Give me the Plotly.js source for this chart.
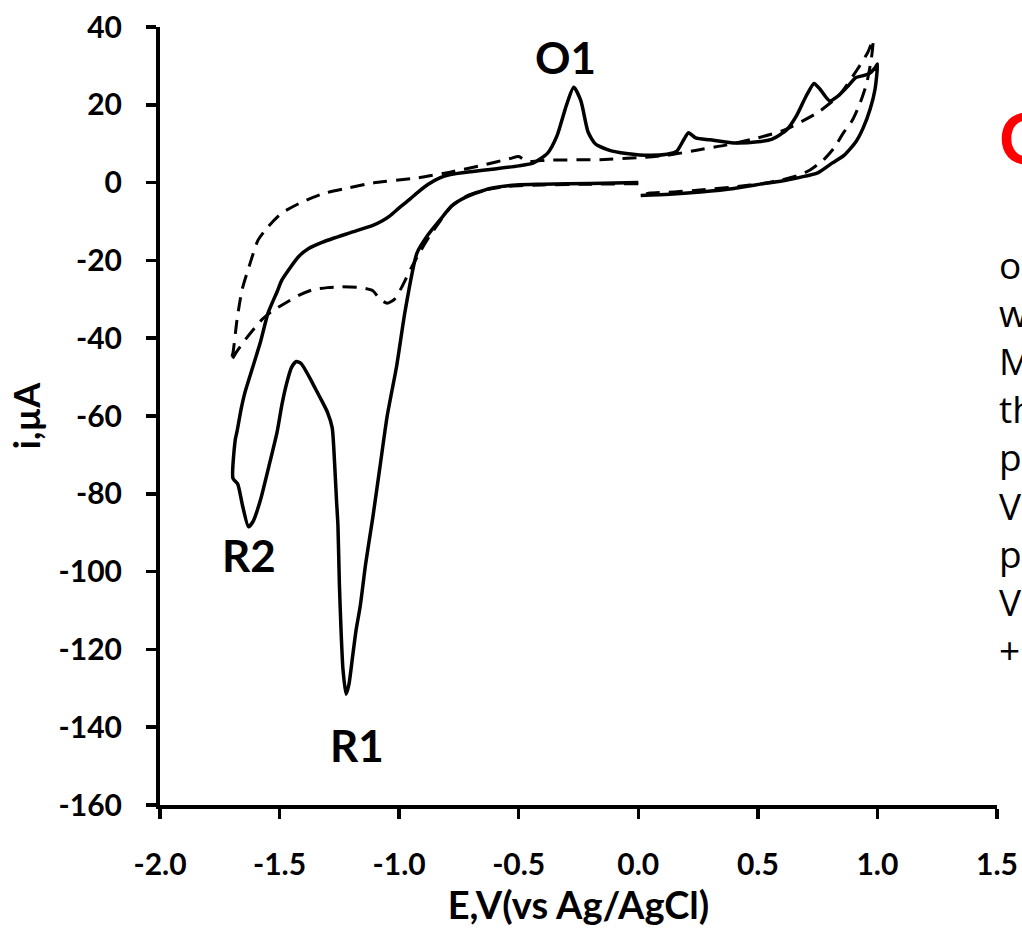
<!DOCTYPE html>
<html>
<head>
<meta charset="utf-8">
<script src="https://cdn.plot.ly/plotly-3.0.1.min.js"></script>
<style>html,body{margin:0;padding:0;background:#fff;overflow:hidden}</style>
</head>
<body>
<div id="chart" style="width:1022px;height:932px"></div>
<script>
// Solid CV (with analyte): potential E (V vs Ag/AgCl) and current i (µA)
const solidE = [0.0,-0.2,-0.4,-0.51,-0.62,-0.717,-0.78,-0.829,-0.88,-0.926,-0.975,-1.01,-1.05,-1.08,-1.11,-1.14,-1.163,-1.18,-1.195,-1.21,-1.222,-1.235,-1.243,-1.25,-1.256,-1.262,-1.27,-1.28,-1.30,-1.32,-1.35,-1.38,-1.41,-1.43,-1.45,-1.47,-1.49,-1.51,-1.545,-1.58,-1.61,-1.63,-1.655,-1.675,-1.695,-1.685,-1.678,-1.66,-1.645,-1.615,-1.58,-1.548,-1.51,-1.49,-1.42,-1.38,-1.32,-1.21,-1.11,-1.07,-1.04,-1.00,-0.96,-0.926,-0.88,-0.83,-0.79,-0.70,-0.60,-0.50,-0.44,-0.38,-0.34,-0.30,-0.27,-0.24,-0.21,-0.18,-0.12,-0.05,0.05,0.12,0.16,0.19,0.21,0.24,0.30,0.40,0.50,0.56,0.62,0.66,0.70,0.735,0.76,0.80,0.84,0.88,0.91,0.94,0.965,0.99,1.0,0.99,0.97,0.94,0.91,0.86,0.81,0.75,0.68,0.60,0.54,0.40,0.26,0.13,0.01];
const solidI = [0.0,-0.2,-0.4,-0.6,-1.5,-3.6,-6.0,-9.6,-13.5,-18.2,-33,-47,-60,-73,-86,-98,-109,-115,-122,-129,-131.5,-125,-115,-103,-88,-81.6,-72,-63,-59,-56.5,-53,-49.5,-46.5,-46,-47.5,-51.5,-57,-64,-73,-81.6,-87,-88.5,-83,-77.5,-76,-66,-64,-58,-54,-48,-41,-33.5,-28,-25,-19,-17,-15.3,-13,-11,-9.8,-8.6,-6.5,-4.5,-2.7,-0.5,1.2,2.0,2.8,3.5,4.3,5.0,7.5,12,20,24.5,21,13,10,8.3,7.5,7.0,7.3,8.0,11,12.8,11.5,11.0,10.2,10.5,11.2,13.5,17,22,25.5,24,21,22.5,25,27,27.5,28,29.5,30.5,24,19,14,10.5,7,5,2.5,1.4,0.4,-0.1,-1.5,-2.4,-3.0,-3.3];

// Dashed CV (blank)
const dashE = [0.0,-0.2,-0.4,-0.55,-0.65,-0.72,-0.78,-0.83,-0.87,-0.91,-0.95,-0.99,-1.02,-1.05,-1.08,-1.11,-1.16,-1.24,-1.30,-1.364,-1.42,-1.477,-1.53,-1.575,-1.645,-1.68,-1.705,-1.695,-1.678,-1.657,-1.623,-1.59,-1.549,-1.49,-1.406,-1.31,-1.213,-1.11,-0.925,-0.787,-0.649,-0.536,-0.50,-0.465,-0.37,-0.16,0.0,0.12,0.25,0.37,0.50,0.61,0.75,0.84,0.915,0.96,0.982,0.975,0.955,0.928,0.895,0.857,0.82,0.774,0.72,0.677,0.60,0.538,0.40,0.258,0.15,0.05,0.01];
const dashI = [-0.3,-0.4,-0.6,-1.0,-2.0,-3.5,-6,-10,-13.5,-17.5,-22,-27,-30,-31,-30,-27.8,-27,-26.8,-27,-27.6,-29,-31,-33,-35.3,-40.5,-43.5,-46,-43.8,-35.3,-27.6,-20.7,-14.8,-11.4,-7.8,-5,-2.7,-1.4,-0.1,1.2,2.7,4.5,6.2,6.7,5.5,5.8,5.9,6.4,7.0,8.4,9.7,11.5,13.5,18,22.5,29,33.5,36.7,32,25.5,20.5,16,12.7,9.0,5.8,3.3,2.0,0.7,-0.1,-1.1,-1.9,-2.4,-2.7,-3.2];

// Axis ticks
const xTickVals = [-2.0,-1.5,-1.0,-0.5,0.0,0.5,1.0,1.5];
const xTickText = ["-2.0","-1.5","-1.0","-0.5","0.0","0.5","1.0","1.5"];
const yTickVals = [40,20,0,-20,-40,-60,-80,-100,-120,-140,-160];
const yTickText = ["40","20","0","-20","-40","-60","-80","-100","-120","-140","-160"];

// Peak labels
const peakNames = ["O1","R2","R1"];
const peakLabelE = [-0.306,-1.628,-1.176];
const peakLabelI = [32.3,-95.7,-144.6];

const sideLines = ["o","w","M","th","p","V","p","V","+"];

const boldFont = {family:"Lato, 'Open Sans', sans-serif", color:"#000", weight:"bold"};

const traces = [
  {x: solidE, y: solidI, mode:"lines", line:{color:"#000", width:3.5, shape:"spline", smoothing:0.6}, hoverinfo:"skip", showlegend:false},
  {x: dashE, y: dashI, mode:"lines", line:{color:"#000", width:3, dash:"14px,9px", shape:"spline", smoothing:0.6}, hoverinfo:"skip", showlegend:false}
];

const annotations = peakNames.map((t,k)=>({
  x: peakLabelE[k], y: peakLabelI[k], xref:"x", yref:"y", text:t, showarrow:false,
  font: Object.assign({}, boldFont, {size:44}), xanchor:"center", yanchor:"middle"
}));
annotations.push({
  x:1.0, y:0.8586, xref:"paper", yref:"paper", text:"C", showarrow:false,
  xanchor:"left", yanchor:"middle",
  font:{family:"Lato, 'Open Sans', sans-serif", size:70, color:"#ff0000", weight:"bold"}
});
annotations.push({
  x:1.0, y:0.4473, xref:"paper", yref:"paper", text: sideLines.join("<br>"), showarrow:false,
  xanchor:"left", yanchor:"middle", align:"left",
  font:{family:"'Open Sans', sans-serif", size:37, color:"#000"}
});

const layout = {
  width:1022, height:932,
  margin:{l:160, r:25, t:27, b:127, pad:0},
  paper_bgcolor:"#fff", plot_bgcolor:"#fff",
  showlegend:false,
  xaxis:{
    range:[-2.0,1.5], tickvals:xTickVals, ticktext:xTickText,
    showgrid:false, zeroline:false, showline:true, linecolor:"#000", linewidth:4,
    ticks:"outside", ticklen:10, tickwidth:3.5, tickcolor:"#000",
    tickfont:Object.assign({}, boldFont, {size:30}), ticklabelstandoff:20,
    title:{text:"E,V(vs Ag/AgCl)", font:Object.assign({}, boldFont, {size:38}), standoff:12},
    automargin:false
  },
  yaxis:{
    range:[-160,40], tickvals:yTickVals, ticktext:yTickText,
    showgrid:false, zeroline:false, showline:true, linecolor:"#000", linewidth:4,
    ticks:"outside", ticklen:10, tickwidth:3.5, tickcolor:"#000",
    tickfont:Object.assign({}, boldFont, {size:30}), ticklabelstandoff:18,
    title:{text:"i,µA", font:Object.assign({}, boldFont, {size:36}), standoff:8},
    automargin:false
  },
  annotations: annotations
};

Plotly.newPlot("chart", traces, layout, {displayModeBar:false, staticPlot:true});
</script>
</body>
</html>
